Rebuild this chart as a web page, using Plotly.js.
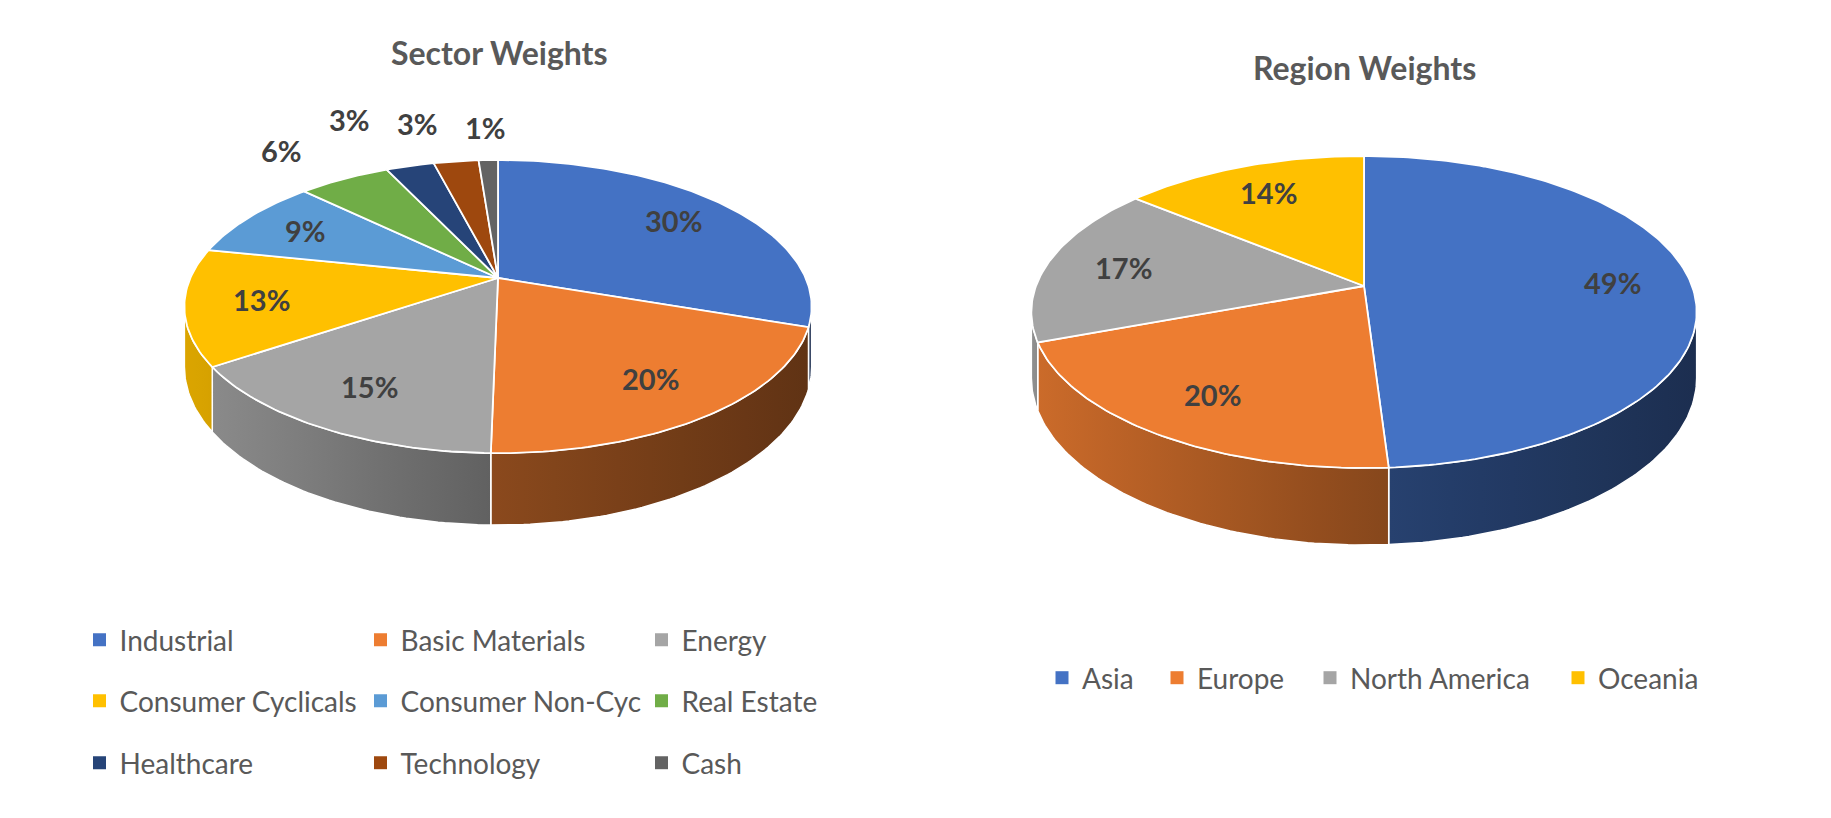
<!DOCTYPE html>
<html>
<head>
<meta charset="utf-8">
<script src="https://cdn.plot.ly/plotly-3.0.1.min.js"></script>
<style>
  html, body { margin: 0; padding: 0; background: #fff; }
  #chart { width: 1831px; height: 818px; }
</style>
</head>
<body>
<div id="chart"></div>
<script>
// ---- data ----
const sectorNames = ['Industrial', 'Basic Materials', 'Energy', 'Consumer Cyclicals', 'Consumer Non-Cyc',
                     'Real Estate', 'Healthcare', 'Technology', 'Cash'];
const sectorWeights = [30.3, 20.0, 15.2, 12.8, 9.0, 5.7, 3.0, 2.8, 1.2];

const regionNames = ['Asia', 'Europe', 'North America', 'Oceania'];
const regionWeights = [49.0, 20.3, 16.7, 14.0];

// ---- styles ----
const sectorColors = ['#4472C4', '#ED7D31', '#A5A5A5', '#FFC000', '#5B9BD5', '#70AD47', '#264478', '#9E480E', '#636363'];
const regionColors = ['#4472C4', '#ED7D31', '#A5A5A5', '#FFC000'];

const W = 1831, H = 818;
const FONT = 'Lato, "Open Sans", sans-serif';

// tilted pie geometry in page pixels (k = perspective strength)
const sectorPie = { cx: 498, cy: 278, rx: 307.6, ry: 141, k: 0.195, depth: 72 };
const regionPie = { cx: 1364, cy: 286, rx: 328, ry: 151.7, k: 0.1667, depth: 77 };

// legend widths for the one-row region legend
const regionLegendWidths = [70, 108, 203, 105];

// project an angle (degrees clockwise from 12 o'clock) on the tilted disc
function project(p, deg, f) {
    const a = deg * Math.PI / 180;
    const u = Math.sin(a) * f, v = Math.cos(a) * f;
    const s = 1 / (1 + p.k * v);
    return [p.cx + p.rx * u * s, p.cy - p.ry * v * s, s];
}

function arc(p, a0, a1) {
    const pts = [];
    const n = Math.max(2, Math.ceil((a1 - a0) / 1));
    for (let i = 0; i <= n; i++) pts.push(project(p, a0 + (a1 - a0) * i / n, 1));
    return pts;
}

// side lighting: lighter on the left, darker to the right
function shade(t) {
    const stops = [[-1.05, 0.87], [0, 0.58], [1.05, 0.40]];
    if (t <= stops[0][0]) return stops[0][1];
    for (let i = 1; i < stops.length; i++) {
        if (t <= stops[i][0]) {
            const [t0, f0] = stops[i - 1], [t1, f1] = stops[i];
            return f0 + (f1 - f0) * (t - t0) / (t1 - t0);
        }
    }
    return stops[stops.length - 1][1];
}

function scaleColor(hex, f) {
    const n = parseInt(hex.slice(1), 16);
    const r = Math.round(((n >> 16) & 255) * f), g = Math.round(((n >> 8) & 255) * f), b = Math.round((n & 255) * f);
    return `rgb(${r},${g},${b})`;
}

function pieTraces(p, values, colors) {
    const total = values.reduce((a, b) => a + b, 0);
    let cum = 0;
    const slices = values.map((v, i) => {
        const a0 = cum / total * 360;
        cum += v;
        return { a0, a1: cum / total * 360, color: colors[i], pct: v / total * 100 };
    });
    const tilt = Math.asin(p.k) * 180 / Math.PI;
    const vis0 = 90 + tilt, vis1 = 270 - tilt;
    const d0 = p.depth * (1 - p.k);
    const walls = [], tops = [];

    slices.forEach(sl => {
        const w0 = Math.max(sl.a0, vis0), w1 = Math.min(sl.a1, vis1);
        if (w1 > w0) {
            const rim = arc(p, w0, w1);
            const xs = rim.map(q => q[0]).concat(rim.slice().reverse().map(q => q[0]));
            const ys = rim.map(q => q[1]).concat(rim.slice().reverse().map(q => q[1] + d0 * q[2]));
            xs.push(xs[0]); ys.push(ys[0]);
            const xmin = Math.min(...xs), xmax = Math.max(...xs);
            const colorscale = [];
            for (let i = 0; i <= 5; i++) {
                const x = xmin + (xmax - xmin) * i / 5;
                colorscale.push([i / 5, scaleColor(sl.color, shade((x - p.cx) / p.rx))]);
            }
            walls.push({
                type: 'scatter', mode: 'lines', x: xs, y: ys, fill: 'toself',
                fillgradient: { type: 'horizontal', colorscale },
                line: { color: '#ffffff', width: 1.5 },
                hoverinfo: 'skip', showlegend: false
            });
        }
        const rim = arc(p, sl.a0, sl.a1);
        const xs = [p.cx].concat(rim.map(q => q[0]), [p.cx]);
        const ys = [p.cy].concat(rim.map(q => q[1]), [p.cy]);
        tops.push({
            type: 'scatter', mode: 'lines', x: xs, y: ys, fill: 'toself',
            fillcolor: sl.color,
            line: { color: '#ffffff', width: 1.8 },
            hoverinfo: 'skip', showlegend: false
        });
    });
    return { traces: walls.concat(tops), slices };
}

// percent labels: inside for larger slices, outside (spread apart) for small ones
function pieLabels(p, slices) {
    const out = slices.map(sl => {
        const mid = (sl.a0 + sl.a1) / 2;
        const inside = sl.pct >= 7;
        const q = project(p, mid, inside ? 0.76 : 1.35);
        return { x: q[0], y: q[1], inside, text: Math.round(sl.pct) + '%' };
    });
    // crowded outside labels are pushed left; close neighbours share a row
    let prevX = Infinity, prevY = null;
    for (let i = out.length - 1; i >= 0; i--) {
        if (out[i].inside) continue;
        if (out[i].x > prevX - 68) {
            out[i].x = prevX - 68;
            if (out[i].y - prevY < 20) out[i].y = Math.min(out[i].y, prevY - 4);
        }
        prevX = out[i].x;
        prevY = out[i].y;
    }
    return out.map(l => ({
        x: l.x, y: l.y, xref: 'x', yref: 'y', text: l.text, showarrow: false,
        xanchor: 'center', yanchor: 'middle',
        font: { family: FONT, size: 29, weight: 700, color: '#404040' }
    }));
}

function legendTrace(name, color, legendId, width) {
    const t = {
        type: 'scatter', mode: 'markers', x: [null], y: [null], name,
        marker: { symbol: 'square', size: 13, color },
        legend: legendId, showlegend: true, hoverinfo: 'skip'
    };
    if (width) t.legendwidth = width;
    return t;
}

function legendBox(xpx, ypx, entrywidth) {
    const box = {
        orientation: 'h', x: (xpx - 20) / W, y: 1 - ypx / H, xanchor: 'left', yanchor: 'middle',
        font: { family: FONT, size: 28, color: '#595959' },
        bgcolor: 'rgba(0,0,0,0)', borderwidth: 0, traceorder: 'normal',
        itemclick: false, itemdoubleclick: false
    };
    if (entrywidth) { box.entrywidth = entrywidth; box.entrywidthmode = 'pixels'; }
    return box;
}

const sector = pieTraces(sectorPie, sectorWeights, sectorColors);
const region = pieTraces(regionPie, regionWeights, regionColors);

const legendTraces = [];
sectorNames.forEach((n, i) => {
    const row = Math.floor(i / 3);
    legendTraces.push(legendTrace(n, sectorColors[i], row === 0 ? 'legend' : 'legend' + (row + 1)));
});
regionNames.forEach((n, i) => legendTraces.push(legendTrace(n, regionColors[i], 'legend4', regionLegendWidths[i])));

const titleFont = { family: FONT, size: 32, weight: 700, color: '#595959' };
const annotations = [
    { x: 499, y: 52, xref: 'x', yref: 'y', text: 'Sector Weights', showarrow: false, font: titleFont },
    { x: 1364, y: 67, xref: 'x', yref: 'y', text: 'Region Weights', showarrow: false, font: titleFont }
].concat(pieLabels(sectorPie, sector.slices), pieLabels(regionPie, region.slices));

const layout = {
    width: W, height: H,
    margin: { l: 0, r: 0, t: 0, b: 0 },
    paper_bgcolor: '#ffffff', plot_bgcolor: '#ffffff',
    xaxis: { range: [0, W], visible: false, fixedrange: true },
    yaxis: { range: [H, 0], visible: false, fixedrange: true },
    showlegend: true,
    legend: legendBox(99.5, 640, 236),
    legend2: legendBox(99.5, 701, 236),
    legend3: legendBox(99.5, 763, 236),
    legend4: legendBox(1062, 678),
    annotations
};

Plotly.newPlot('chart', sector.traces.concat(region.traces, legendTraces), layout,
    { staticPlot: true, displayModeBar: false });
</script>
</body>
</html>
